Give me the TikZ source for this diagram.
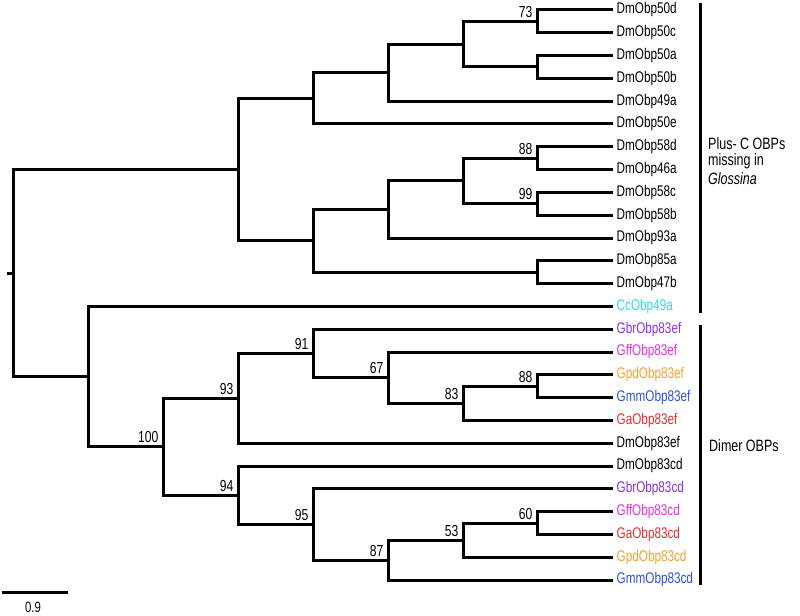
\documentclass[tikz,border=0pt]{standalone}
\usepackage{fontspec}
\setmainfont{Liberation Sans}[FakeStretch=0.76]
\definecolor{cccol}{HTML}{33D8E8}
\definecolor{gbrcol}{HTML}{8E2FDC}
\definecolor{gffcol}{HTML}{E032E0}
\definecolor{gpdcol}{HTML}{F3A030}
\definecolor{gmmcol}{HTML}{3050D8}
\definecolor{gacol}{HTML}{E03030}
\begin{document}
\begin{tikzpicture}[x=1bp,y=-1bp,
  branch/.style={line width=3bp, line join=miter},
  leaf/.style={anchor=west, inner xsep=3.5bp, inner ysep=0pt, font=\fontsize{15.5}{15.5}\selectfont},
  boot/.style={anchor=south east, inner sep=0pt, font=\fontsize{16}{16}\selectfont},
  grp/.style={anchor=west, inner sep=0pt, font=\fontsize{16.5}{16.5}\selectfont},
  bar/.style={line width=3bp}]
\useasboundingbox (0,0) rectangle (800,616);

% leaves
\node[leaf] (DmObp50d) at (613,10) {DmObp50d};
\node[leaf] (DmObp50c) at (613,32.8) {DmObp50c};
\node[leaf] (DmObp50a) at (613,55.6) {DmObp50a};
\node[leaf] (DmObp50b) at (613,78.4) {DmObp50b};
\node[leaf] (DmObp49a) at (613,101.2) {DmObp49a};
\node[leaf] (DmObp50e) at (613,124) {DmObp50e};
\node[leaf] (DmObp58d) at (613,146.8) {DmObp58d};
\node[leaf] (DmObp46a) at (613,169.6) {DmObp46a};
\node[leaf] (DmObp58c) at (613,192.4) {DmObp58c};
\node[leaf] (DmObp58b) at (613,215.2) {DmObp58b};
\node[leaf] (DmObp93a) at (613,238) {DmObp93a};
\node[leaf] (DmObp85a) at (613,260.8) {DmObp85a};
\node[leaf] (DmObp47b) at (613,283.6) {DmObp47b};
\node[leaf, text=cccol] (CcObp49a) at (613,306.4) {CcObp49a};
\node[leaf, text=gbrcol] (GbrObp83ef) at (613,329.2) {GbrObp83ef};
\node[leaf, text=gffcol] (GffObp83ef) at (613,352) {GffObp83ef};
\node[leaf, text=gpdcol] (GpdObp83ef) at (613,374.8) {GpdObp83ef};
\node[leaf, text=gmmcol] (GmmObp83ef) at (613,397.6) {GmmObp83ef};
\node[leaf, text=gacol] (GaObp83ef) at (613,420.4) {GaObp83ef};
\node[leaf] (DmObp83ef) at (613,443.2) {DmObp83ef};
\node[leaf] (DmObp83cd) at (613,466) {DmObp83cd};
\node[leaf, text=gbrcol] (GbrObp83cd) at (613,488.8) {GbrObp83cd};
\node[leaf, text=gffcol] (GffObp83cd) at (613,511.6) {GffObp83cd};
\node[leaf, text=gacol] (GaObp83cd) at (613,534.4) {GaObp83cd};
\node[leaf, text=gpdcol] (GpdObp83cd) at (613,557.2) {GpdObp83cd};
\node[leaf, text=gmmcol] (GmmObp83cd) at (613,580) {GmmObp83cd};

% internal nodes
\coordinate (n73) at (537,21.4);
\coordinate (nab) at (537,67);
\coordinate (nC) at (463,44.2);
\coordinate (nB) at (388,72.7);
\coordinate (nA1) at (313,98.35);
\coordinate (n88a) at (537,158.2);
\coordinate (n99) at (537,203.8);
\coordinate (nE) at (463,181);
\coordinate (nD) at (388,209.5);
\coordinate (n85) at (537,272.2);
\coordinate (nA2) at (313,240.85);
\coordinate (nA) at (238,169.6);
\coordinate (n88b) at (537,386.2);
\coordinate (n83) at (463,403.3);
\coordinate (n67) at (388,377.65);
\coordinate (n91) at (313,353.4);
\coordinate (n93) at (238,398.3);
\coordinate (n60) at (537,523);
\coordinate (n53) at (463,540.1);
\coordinate (n87) at (388,560.05);
\coordinate (n95) at (313,524.4);
\coordinate (n94) at (238,495.2);
\coordinate (n100) at (163,446.75);
\coordinate (nL) at (88,376.6);
\coordinate (root) at (13,273.1);
\coordinate (rtick) at (7,273.1);

% branches
\draw[branch] (DmObp50d.west) -| (n73) |- (DmObp50c.west);
\draw[branch] (DmObp50a.west) -| (nab) |- (DmObp50b.west);
\draw[branch] (n73) -| (nC) |- (nab);
\draw[branch] (nC) -| (nB) |- (DmObp49a.west);
\draw[branch] (nB) -| (nA1) |- (DmObp50e.west);
\draw[branch] (DmObp58d.west) -| (n88a) |- (DmObp46a.west);
\draw[branch] (DmObp58c.west) -| (n99) |- (DmObp58b.west);
\draw[branch] (n88a) -| (nE) |- (n99);
\draw[branch] (nE) -| (nD) |- (DmObp93a.west);
\draw[branch] (DmObp85a.west) -| (n85) |- (DmObp47b.west);
\draw[branch] (nD) -| (nA2) |- (n85);
\draw[branch] (nA1) -| (nA) |- (nA2);
\draw[branch] (GpdObp83ef.west) -| (n88b) |- (GmmObp83ef.west);
\draw[branch] (n88b) -| (n83) |- (GaObp83ef.west);
\draw[branch] (GffObp83ef.west) -| (n67) |- (n83);
\draw[branch] (GbrObp83ef.west) -| (n91) |- (n67);
\draw[branch] (n91) -| (n93) |- (DmObp83ef.west);
\draw[branch] (GffObp83cd.west) -| (n60) |- (GaObp83cd.west);
\draw[branch] (n60) -| (n53) |- (GpdObp83cd.west);
\draw[branch] (n53) -| (n87) |- (GmmObp83cd.west);
\draw[branch] (GbrObp83cd.west) -| (n95) |- (n87);
\draw[branch] (DmObp83cd.west) -| (n94) |- (n95);
\draw[branch] (n93) -| (n100) |- (n94);
\draw[branch] (CcObp49a.west) -| (nL) |- (n100);
\draw[branch] (nA) -| (root) |- (nL);
\draw[branch] (rtick) -- (root);

% bootstrap values
\tikzset{bshift/.style={xshift=-4.5bp,yshift=3.5bp}}
\node[boot] (b73) at ([bshift]n73) {73};
\node[boot] (b88a) at ([bshift]n88a) {88};
\node[boot] (b99) at ([bshift]n99) {99};
\node[boot] (b88b) at ([bshift]n88b) {88};
\node[boot] (b83) at ([bshift]n83) {83};
\node[boot] (b67) at ([bshift]n67) {67};
\node[boot] (b91) at ([bshift]n91) {91};
\node[boot] (b93) at ([bshift]n93) {93};
\node[boot] (b60) at ([bshift]n60) {60};
\node[boot] (b53) at ([bshift]n53) {53};
\node[boot] (b87) at ([bshift]n87) {87};
\node[boot] (b95) at ([bshift]n95) {95};
\node[boot] (b94) at ([bshift]n94) {94};
\node[boot] (b100) at ([bshift]n100) {100};

% group bars and labels
\coordinate (g1t) at (700,3);
\coordinate (g1b) at (700,313);
\coordinate (g2t) at (700,325);
\coordinate (g2b) at (700,585);
\draw[bar] (g1t) -- (g1b);
\draw[bar] (g2t) -- (g2b);
\node[grp] (plusC1) at (708,144) {Plus- C OBPs};
\node[grp] (plusC2) at (708,161.5) {missing in};
\node[grp] (plusC3) at (708,178.5) {\itshape Glossina};
\node[grp] (dimer) at (709,446) {Dimer OBPs};

% scale bar
\coordinate (sb1) at (2,592);
\coordinate (sb2) at (68,592);
\draw[bar] (sb1) -- (sb2);
\node[font=\fontsize{15}{15}\selectfont, inner sep=0pt] (sblab) at (33,607) {0.9};
\end{tikzpicture}
\end{document}
